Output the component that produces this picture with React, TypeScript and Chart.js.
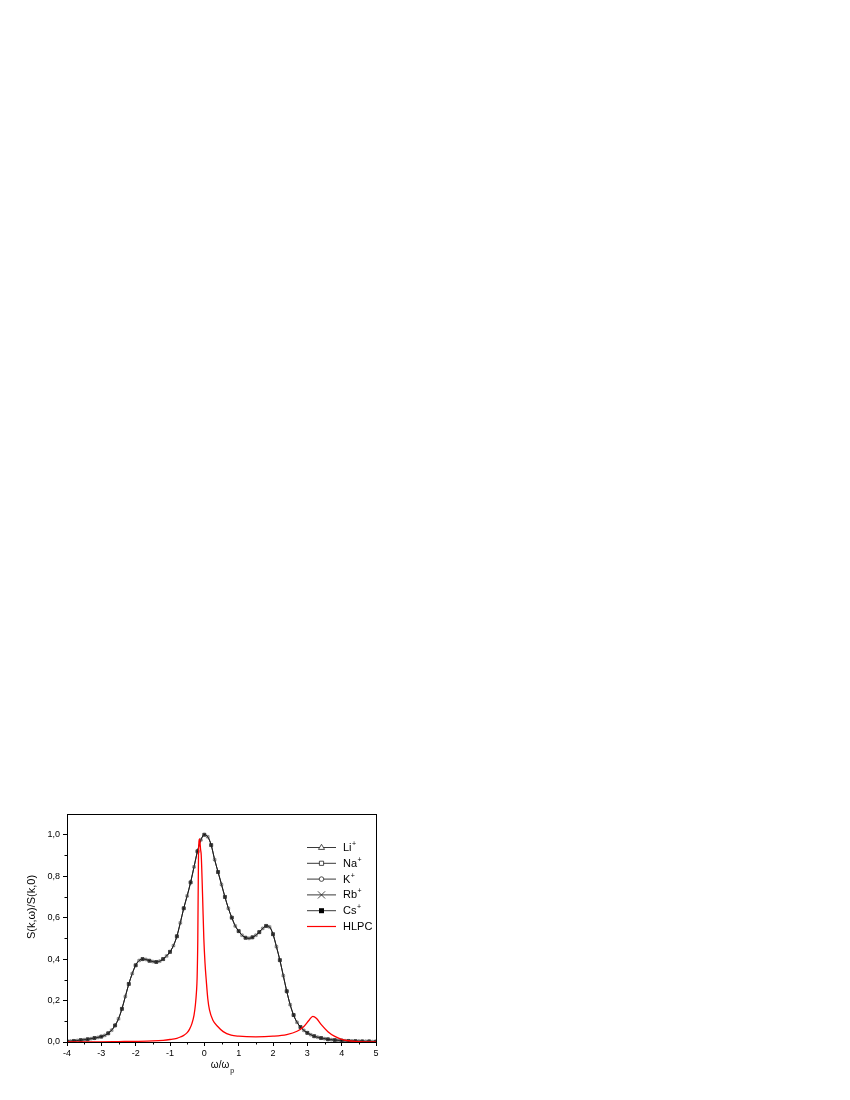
import React, { useEffect, useRef } from 'react';
import { Chart, registerables } from 'chart.js';

Chart.register(...registerables);

const FONT = '"Liberation Sans", Arial, Helvetica, sans-serif';

// omega / omega_p grid of the five ion curves
const OMEGA = [
  -4.0, -3.9, -3.8, -3.7, -3.6, -3.5, -3.4, -3.3, -3.2, -3.1,
  -3.0, -2.9, -2.8, -2.7, -2.6, -2.5, -2.4, -2.3, -2.2, -2.1,
  -2.0, -1.9, -1.8, -1.7, -1.6, -1.5, -1.4, -1.3, -1.2, -1.1,
  -1.0, -0.9, -0.8, -0.7, -0.6, -0.5, -0.4, -0.3, -0.2, -0.1,
  0.0, 0.1, 0.2, 0.3, 0.4, 0.5, 0.6, 0.7, 0.8, 0.9,
  1.0, 1.1, 1.2, 1.3, 1.4, 1.5, 1.6, 1.7, 1.8, 1.9,
  2.0, 2.1, 2.2, 2.3, 2.4, 2.5, 2.6, 2.7, 2.8, 2.9,
  3.0, 3.1, 3.2, 3.3, 3.4, 3.5, 3.6, 3.7, 3.8, 3.9,
  4.0, 4.1, 4.2, 4.3, 4.4, 4.5, 4.6, 4.7, 4.8, 4.9,
  5.0,
];

// S(k,w)/S(k,0) (all five alkali ions coincide)
const S_IONS = [
  0.003, 0.004, 0.005, 0.007, 0.009, 0.011, 0.013, 0.016, 0.019, 0.022,
  0.026, 0.032, 0.042, 0.057, 0.08, 0.112, 0.16, 0.22, 0.28, 0.33,
  0.37, 0.393, 0.4, 0.398, 0.392, 0.388, 0.386, 0.39, 0.4, 0.415,
  0.435, 0.465, 0.51, 0.575, 0.645, 0.705, 0.77, 0.845, 0.92, 0.975,
  1.0, 0.99, 0.95, 0.88, 0.82, 0.76, 0.7, 0.645, 0.6, 0.56,
  0.535, 0.515, 0.503, 0.5, 0.505, 0.515, 0.53, 0.548, 0.56, 0.555,
  0.52, 0.46, 0.395, 0.32, 0.245, 0.18, 0.13, 0.095, 0.072, 0.056,
  0.044, 0.035, 0.028, 0.023, 0.019, 0.016, 0.013, 0.011, 0.009, 0.008,
  0.007, 0.006, 0.005, 0.005, 0.004, 0.004, 0.003, 0.003, 0.003, 0.002,
  0.002,
];

// HLPC curve
const HLPC_OMEGA = [
  -4, -3, -2.5, -2, -1.5, -1.2, -1.0, -0.8, -0.7, -0.6,
  -0.5, -0.43, -0.36, -0.3, -0.26, -0.23, -0.21, -0.19, -0.17, -0.14,
  -0.11, -0.09, -0.05, -0.015, 0.02, 0.055, 0.1, 0.15, 0.25, 0.39,
  0.55, 0.78, 1.0, 1.5, 2.0, 2.4, 2.7, 2.9, 3.05, 3.16,
  3.27, 3.4, 3.6, 3.8, 4.0, 4.2, 4.5, 5.0,
];
const HLPC_S = [
  0.0005, 0.001, 0.002, 0.003, 0.005, 0.008, 0.012, 0.018, 0.024, 0.032,
  0.045, 0.062, 0.09, 0.13, 0.18, 0.24, 0.31, 0.5, 0.9, 0.98,
  0.93, 0.9, 0.7, 0.5, 0.38, 0.3, 0.21, 0.155, 0.105, 0.075,
  0.05, 0.033, 0.028, 0.025, 0.028, 0.036, 0.052, 0.075, 0.105, 0.124,
  0.113, 0.085, 0.05, 0.027, 0.013, 0.006, 0.002, 0.0005,
];

const ION_LABELS = ['Li⁺', 'Na⁺', 'K⁺', 'Rb⁺', 'Cs⁺'];
const ION_MARKERS = ['triangle', 'rect', 'circle', 'crossRot', 'rectFilled'];
const HLPC_LABEL = 'HLPC';

const X_TICKS = [-4, -3, -2, -1, 0, 1, 2, 3, 4, 5];
const X_MINOR = [-3.5, -2.5, -1.5, -0.5, 0.5, 1.5, 2.5, 3.5, 4.5];
const Y_TICKS = [0, 0.2, 0.4, 0.6, 0.8, 1.0];
const Y_MINOR = [0.1, 0.3, 0.5, 0.7, 0.9];

const Y_TITLE = 'S(k,ω)/S(k,0)';
const X_TITLE = 'ω/ω';
const X_TITLE_SUB = 'p';

function drawMarker(ctx: CanvasRenderingContext2D, kind: string, x: number, y: number) {
  ctx.save();
  ctx.strokeStyle = '#222';
  ctx.fillStyle = '#000';
  ctx.lineWidth = 0.8;
  ctx.beginPath();
  if (kind === 'triangle') {
    const r = 3.2;
    ctx.moveTo(x, y - r);
    ctx.lineTo(x + r * 0.95, y + r * 0.6);
    ctx.lineTo(x - r * 0.95, y + r * 0.6);
    ctx.closePath();
    ctx.fillStyle = '#fff';
    ctx.fill();
    ctx.stroke();
  } else if (kind === 'rect') {
    const h = 2.1;
    ctx.rect(x - h, y - h, 2 * h, 2 * h);
    ctx.fillStyle = '#fff';
    ctx.fill();
    ctx.stroke();
  } else if (kind === 'circle') {
    ctx.arc(x, y, 2.3, 0, Math.PI * 2);
    ctx.fillStyle = '#fff';
    ctx.fill();
    ctx.stroke();
  } else if (kind === 'crossRot') {
    const r = 3.6;
    ctx.moveTo(x - r, y - r);
    ctx.lineTo(x + r, y + r);
    ctx.moveTo(x + r, y - r);
    ctx.lineTo(x - r, y + r);
    ctx.stroke();
  } else if (kind === 'rectFilled') {
    const h = 2.5;
    ctx.rect(x - h, y - h, 2 * h, 2 * h);
    ctx.fill();
  }
  ctx.restore();
}

const decorPlugin = {
  id: 'decor',
  afterDraw(chart: any) {
    const { ctx, chartArea: a, scales } = chart;
    ctx.save();
    // frame
    ctx.strokeStyle = '#000';
    ctx.lineWidth = 1;
    ctx.strokeRect(Math.round(a.left) + 0.5, Math.round(a.top) + 0.5, Math.round(a.right - a.left), Math.round(a.bottom - a.top));
    // minor ticks
    ctx.beginPath();
    X_MINOR.forEach((v) => {
      const px = Math.round(scales.x.getPixelForValue(v)) + 0.5;
      ctx.moveTo(px, a.bottom);
      ctx.lineTo(px, a.bottom + 2.5);
    });
    Y_MINOR.forEach((v) => {
      const py = Math.round(scales.y.getPixelForValue(v)) + 0.5;
      ctx.moveTo(a.left, py);
      ctx.lineTo(a.left - 2.5, py);
    });
    ctx.stroke();

    // axis titles
    ctx.fillStyle = '#000';
    ctx.textBaseline = 'middle';
    ctx.font = `11px ${FONT}`;
    ctx.save();
    ctx.translate(31.5, (a.top + a.bottom) / 2 - 21);
    ctx.rotate(-Math.PI / 2);
    ctx.textAlign = 'center';
    ctx.fillText(Y_TITLE, 0, 0);
    ctx.restore();

    ctx.font = `10px ${FONT}`;
    const w1 = ctx.measureText(X_TITLE).width;
    ctx.font = `7px ${FONT}`;
    const w2 = ctx.measureText(X_TITLE_SUB).width;
    const cx = (a.left + a.right) / 2 + 1;
    const x0 = cx - (w1 + w2 + 1) / 2;
    ctx.textAlign = 'left';
    ctx.font = `10px ${FONT}`;
    ctx.fillText(X_TITLE, x0, a.bottom + 23);
    ctx.font = `7px ${FONT}`;
    ctx.fillText(X_TITLE_SUB, x0 + w1 + 1, a.bottom + 29);

    // legend
    const datasets = chart.data.datasets;
    const lx0 = a.right - 69;
    const lx1 = a.right - 40;
    const tx = a.right - 33;
    datasets.forEach((ds: any, i: number) => {
      const y = a.top + 33 + i * 15.8;
      ctx.save();
      ctx.strokeStyle = ds.label === HLPC_LABEL ? ds.borderColor : '#222';
      ctx.lineWidth = ds.label === HLPC_LABEL ? 1.2 : 0.9;
      ctx.beginPath();
      ctx.moveTo(lx0, y + 0.5);
      ctx.lineTo(lx1, y + 0.5);
      ctx.stroke();
      ctx.restore();
      if (ds.markerKind) drawMarker(ctx, ds.markerKind, (lx0 + lx1) / 2, y + 0.5);
      let label: string = ds.label;
      let sup = '';
      if (label.endsWith('⁺')) {
        label = label.slice(0, -1);
        sup = '+';
      }
      ctx.fillStyle = '#000';
      ctx.textAlign = 'left';
      ctx.textBaseline = 'middle';
      ctx.font = `11px ${FONT}`;
      ctx.fillText(label, tx, y + 1);
      if (sup) {
        const w = ctx.measureText(label).width;
        ctx.font = `7px ${FONT}`;
        ctx.fillText(sup, tx + w + 0.5, y - 3);
      }
    });
    ctx.restore();
  },
};

export default function App() {
  const ref = useRef<HTMLCanvasElement>(null);

  useEffect(() => {
    const ionPoints = OMEGA.map((x, i) => ({ x, y: S_IONS[i] }));
    const hlpcPoints = HLPC_OMEGA.map((x, i) => ({ x, y: HLPC_S[i] }));

    const ionSets = ION_LABELS.map((label, k) => {
      const kind = ION_MARKERS[k];
      const filled = kind === 'rectFilled';
      return {
        label,
        markerKind: kind,
        data: ionPoints,
        borderColor: 'rgba(0,0,0,0.55)',
        borderWidth: 0.7,
        cubicInterpolationMode: 'monotone',
        pointStyle: filled ? 'rect' : kind,
        pointRadius: filled ? (c: any) => (c.dataIndex % 2 === 0 ? 2.1 : 0) : kind === 'crossRot' ? 2.0 : 1.6,
        pointBorderColor: filled ? '#000' : 'rgba(90,90,90,0.55)',
        pointBackgroundColor: filled ? '#000' : 'rgba(255,255,255,0)',
        pointBorderWidth: 0.6,
        order: 1,
      };
    });

    const chart = new Chart(ref.current as HTMLCanvasElement, {
      type: 'line',
      data: {
        datasets: [
          ...ionSets,
          {
            label: HLPC_LABEL,
            markerKind: null,
            data: hlpcPoints,
            borderColor: '#ff0000',
            borderWidth: 1.3,
            cubicInterpolationMode: 'monotone',
            pointRadius: 0,
            order: 0,
          },
        ] as any,
      },
      options: {
        responsive: false,
        animation: false,
        devicePixelRatio: 1,
        events: [],
        layout: { padding: { left: 26, right: 474, top: 814, bottom: 28 } },
        plugins: { legend: { display: false }, tooltip: { enabled: false } },
        scales: {
          x: {
            type: 'linear',
            min: -4,
            max: 5,
            afterBuildTicks: (s: any) => {
              s.ticks = X_TICKS.map((v) => ({ value: v }));
            },
            afterFit: (s: any) => {
              s.height = 30;
            },
            grid: { drawOnChartArea: false, drawTicks: true, tickLength: 4, color: '#000' },
            border: { display: true, color: '#000', width: 1 },
            ticks: {
              font: { family: FONT, size: 9 },
              color: '#000',
              padding: 2,
              maxRotation: 0,
              autoSkip: false,
              callback: (v: any) => String(v),
            },
          },
          y: {
            type: 'linear',
            min: 0,
            max: 1.1,
            afterBuildTicks: (s: any) => {
              s.ticks = Y_TICKS.map((v) => ({ value: v }));
            },
            afterFit: (s: any) => {
              s.width = 41;
            },
            grid: { drawOnChartArea: false, drawTicks: true, tickLength: 4, color: '#000' },
            border: { display: true, color: '#000', width: 1 },
            ticks: {
              font: { family: FONT, size: 9 },
              color: '#000',
              padding: 3,
              autoSkip: false,
              callback: (v: any) => Number(v).toFixed(1).replace('.', ','),
            },
          },
        },
      } as any,
      plugins: [decorPlugin],
    });
    return () => chart.destroy();
  }, []);

  return (
    <div style={{ position: 'absolute', left: 0, top: 0, width: 850, height: 1100 }}>
      <canvas ref={ref} width={850} height={1100} style={{ width: 850, height: 1100, display: 'block' }} />
    </div>
  );
}
